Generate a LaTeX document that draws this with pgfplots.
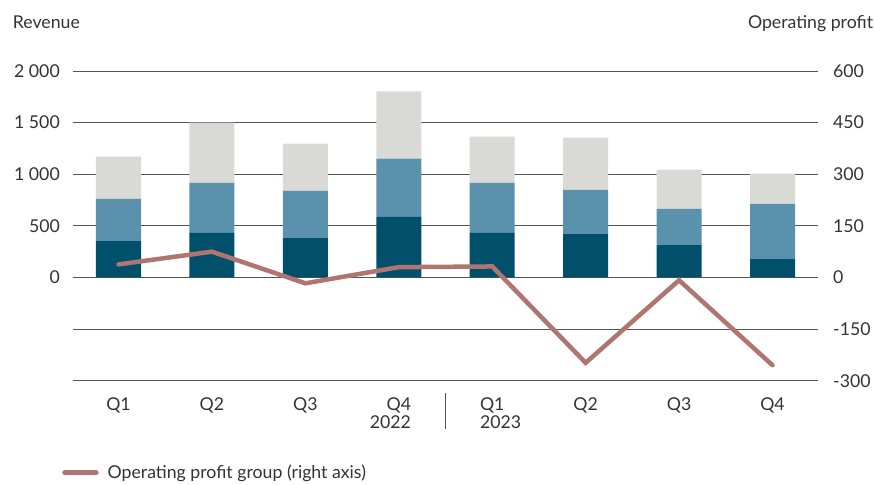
\documentclass[border=0pt]{standalone}
\usepackage{pgfplots}
\pgfplotsset{compat=1.18}
\usepackage{fontspec}
\setmainfont{Lato}
\definecolor{cdark}{HTML}{01506B}
\definecolor{cmid}{HTML}{5A92AD}
\definecolor{clight}{HTML}{D9DAD5}
\definecolor{cprof}{HTML}{B07571}
\definecolor{cgrid}{HTML}{555555}
\definecolor{ctxt}{HTML}{333333}
\newcommand{\ff}{\fontsize{17.7}{17.3}\selectfont}
\begin{document}
\begin{tikzpicture}[font=\ff, text=ctxt]
\begin{axis}[
  name=main,
  scale only axis, width=745pt, height=309.7pt,
  xmin=-0.487, xmax=7.487,
  ymin=-1000, ymax=2000,
  axis line style={draw=none},
  major tick length=0pt,
  ytick={-1000,-500,0,500,1000,1500,2000},
  yticklabels={,,0,500,1 000,1 500,2 000},
  ymajorgrids, grid style={cgrid, line width=0.9pt},
  xtick={0,...,7},
  xticklabels={Q1,Q2,Q3,{Q4\\\phantom{Q4}\llap{2022}},{Q1\\\rlap{2023}\phantom{Q1}},Q2,Q3,Q4},
  xticklabel style={align=center, inner sep=0pt, anchor=north, yshift=-17pt, font=\ff, text=ctxt},
  yticklabel style={inner sep=0pt, anchor=east, xshift=-13pt, font=\ff, text=ctxt},
  ybar stacked, bar width=45pt,
  clip=false,
]
\addplot[fill=cdark, draw=none] coordinates {(0,353) (1,431) (2,382) (3,587) (4,431) (5,421) (6,314) (7,178)};
\addplot[fill=cmid, draw=none] coordinates {(0,409) (1,486) (2,457) (3,564) (4,486) (5,428) (6,350) (7,535)};
\addplot[fill=clight, draw=none] coordinates {(0,408) (1,583) (2,458) (3,652) (4,447) (5,506) (6,380) (7,292)};
\draw[cgrid, line width=0.9pt] ([yshift=-12.6pt]axis cs:3.5,-1000) -- ([yshift=-48.6pt]axis cs:3.5,-1000);
\end{axis}
\begin{axis}[
  scale only axis, width=745pt, height=309.7pt,
  xmin=-0.487, xmax=7.487,
  ymin=-300, ymax=600,
  axis line style={draw=none},
  major tick length=0pt,
  axis x line=none,
  axis y line*=right,
  ytick={-300,-150,0,150,300,450,600},
  yticklabels={-300,-150,0,150,300,450,600},
  yticklabel style={inner sep=0pt, anchor=west, xshift=15pt, font=\ff, text=ctxt},
  legend style={at={(axis description cs:0,0)}, anchor=west, xshift=-11pt, yshift=-92pt, draw=none, fill=none, inner sep=0pt, font=\ff, text=ctxt,
    /tikz/every odd column/.append style={column sep=7pt}},
  legend image code/.code={\draw[cprof, line width=5.5pt, line cap=round] (0pt,0pt) -- (31pt,0pt);},
  clip=false,
]
\addplot[cprof, line width=4.5pt, line cap=round, line join=miter] coordinates {(0,38) (1,75) (2,-17) (3,30) (4,32) (5,-248) (6,-8) (7,-255)};
\addlegendentry{Operating profit group (right axis)}
\end{axis}
\node[anchor=base west, inner sep=0pt] at ([xshift=-60.3pt,yshift=42.5pt]main.north west) {Revenue};
\node[anchor=base east, inner sep=0pt] at ([xshift=55.3pt,yshift=42.5pt]main.north east) {Operating profit};
\pgfresetboundingbox
\path[use as bounding box] ([xshift=-73pt,yshift=-104pt]main.south west) rectangle ([xshift=801pt,yshift=380.7pt]main.south west);
\end{tikzpicture}
\end{document}
